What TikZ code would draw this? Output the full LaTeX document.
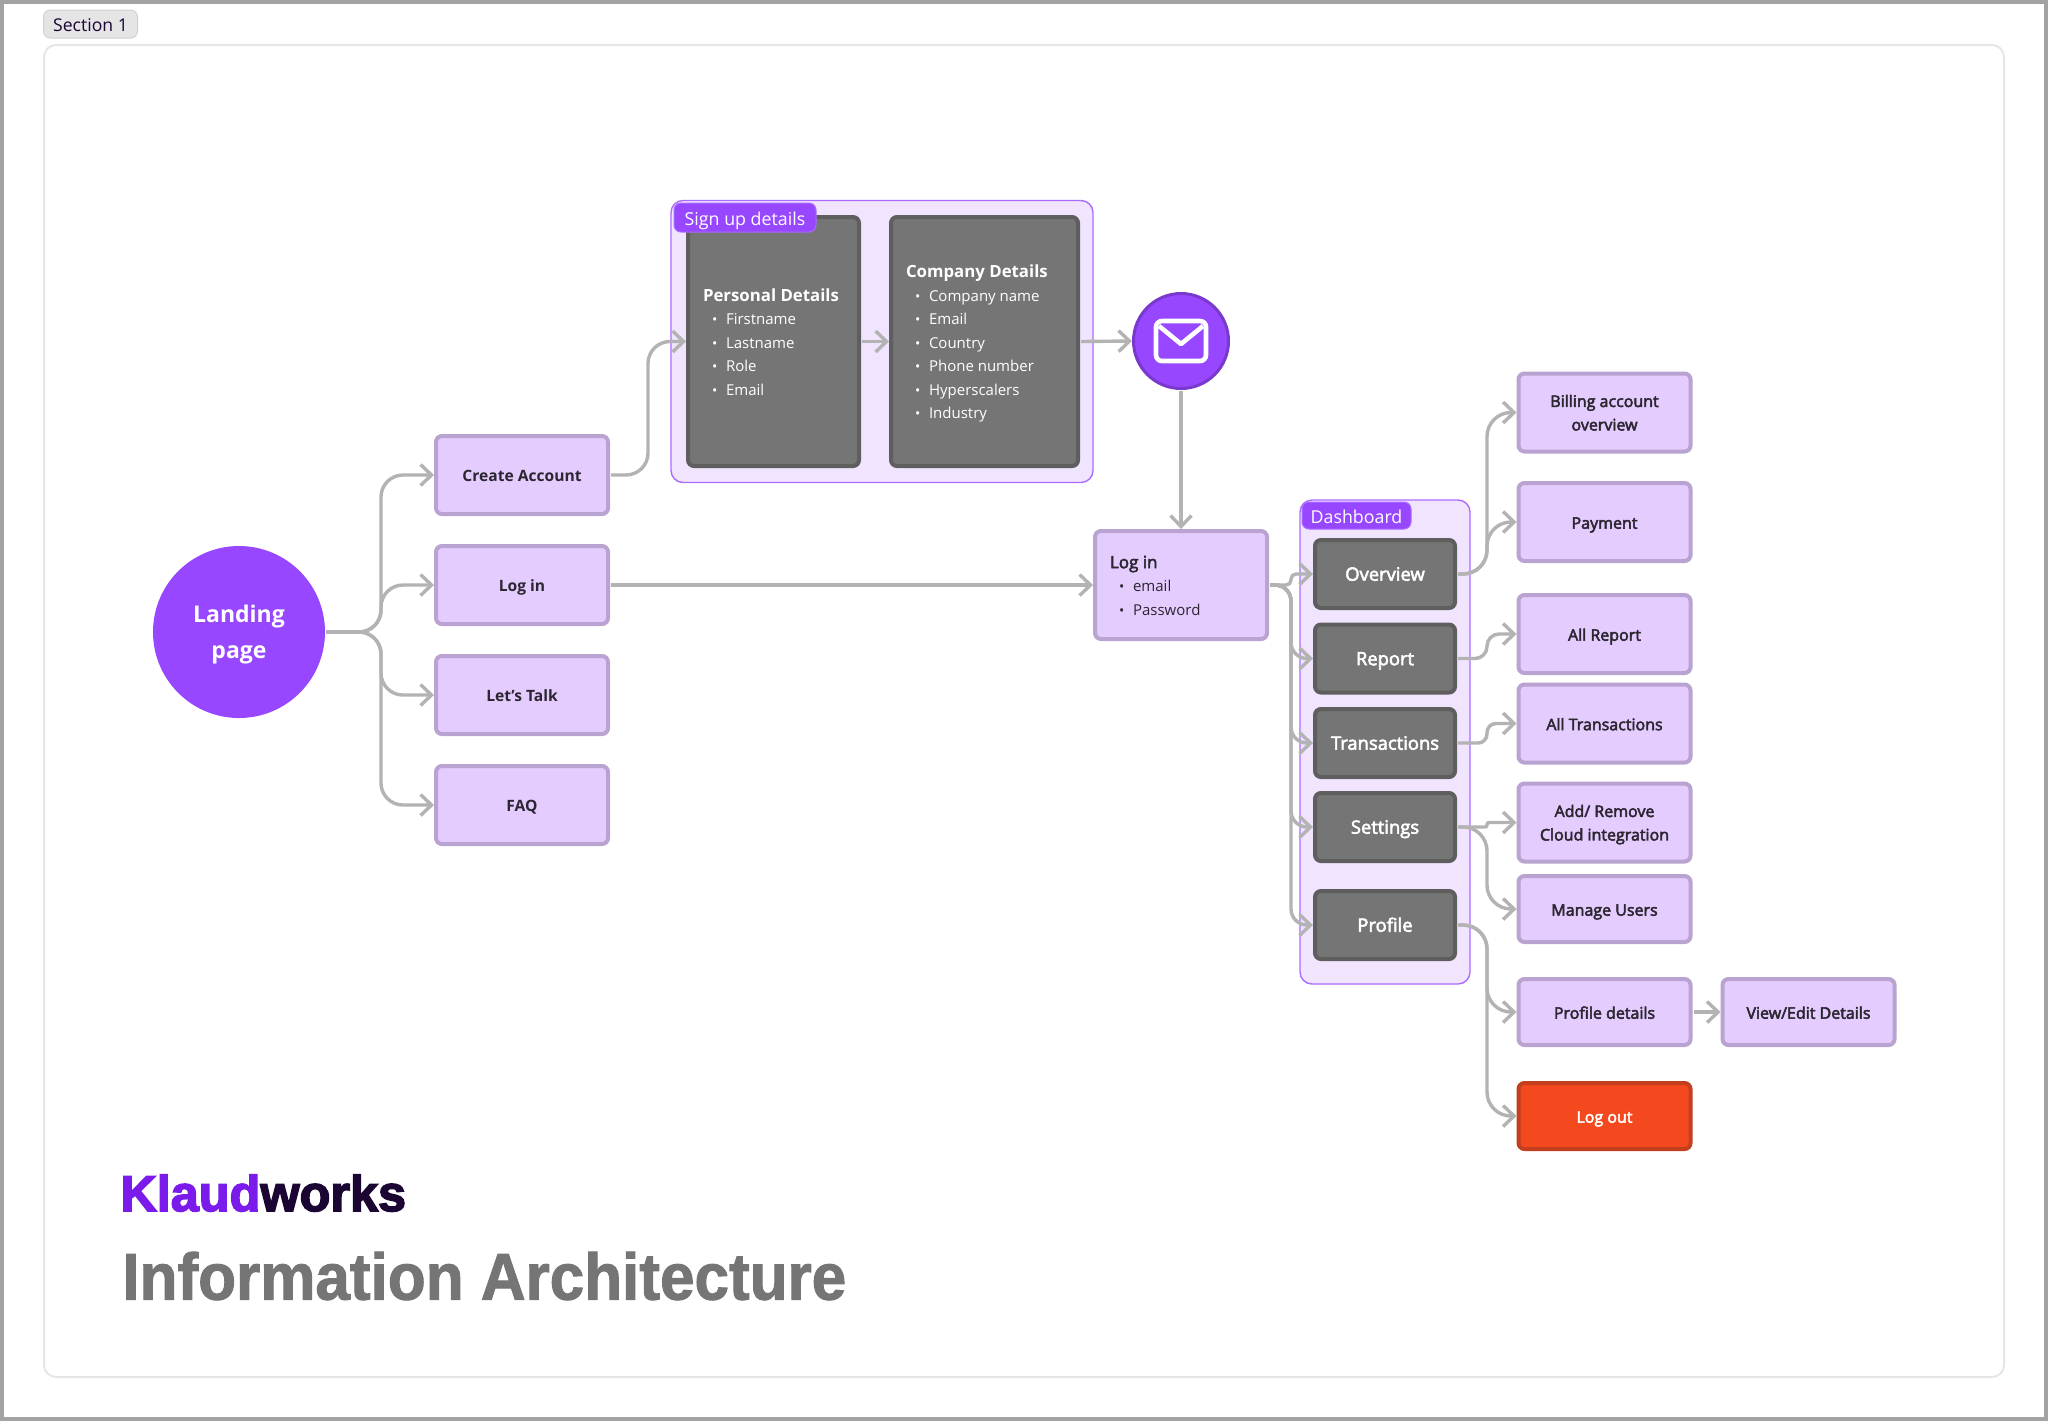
\documentclass[tikz,border=0pt]{standalone}
\usepackage{fontspec}
\setmainfont{Open Sans}
\newfontfamily\midfont[FakeBold=3]{Open Sans}
\newfontfamily\headfont[FakeStretch=0.94,BoldFeatures={FakeBold=1.5}]{Liberation Sans}
\newfontfamily\brandfont[BoldFeatures={FakeBold=3}]{Liberation Sans}
\usepackage{xcolor}
\usetikzlibrary{calc,arrows.meta}

\definecolor{framegray}{HTML}{A3A3A3}
\definecolor{sectionline}{HTML}{E6E6E6}
\definecolor{tagpurple}{HTML}{9747FF}
\definecolor{grouplight}{HTML}{F1E4FF}
\definecolor{groupline}{HTML}{AB6BFF}
\definecolor{boxfill}{HTML}{E5CCFF}
\definecolor{boxline}{HTML}{B9A3D0}
\definecolor{darkfill}{HTML}{757575}
\definecolor{darkline}{HTML}{5E5E5E}
\definecolor{linkgray}{HTML}{B3B3B3}
\definecolor{inkdark}{HTML}{2B2630}
\definecolor{redfill}{HTML}{F4491F}
\definecolor{redline}{HTML}{C43F1E}
\definecolor{klaudpurple}{HTML}{7A1AEB}
\definecolor{worksdark}{HTML}{1A0533}

\newcommand{\rowfont}{\fontsize{7.5}{11.75}\selectfont}
\newcommand{\titlefont}{\fontsize{8.4}{11.75}\selectfont\bfseries}
\newcommand{\listrow}[1]{\hspace*{4.5pt}\makebox[7pt][l]{\scriptsize\textbullet}#1}
\newcommand{\twolines}[2]{\begin{tabular}[b]{@{}c@{}}#1\\#2\end{tabular}}

\tikzset{
	strutted/.style={execute at begin node={\rule{0pt}{\dimexpr3pt+#1\relax}},execute at end node={\rule[-3pt]{0pt}{3pt}}},
	strutted/.default=6.7pt,
	lightbox/.style={draw=boxline,fill=boxfill,line width=2pt,rounded corners=3pt,minimum width=86pt,minimum height=39pt,inner sep=0pt,text=inkdark,align=center,strutted,font=\fontsize{7.8}{11.75}\selectfont\bfseries},
	pagebox/.style={lightbox,font=\midfont\fontsize{8}{11.75}\selectfont},
	darkbox/.style={draw=darkline,fill=darkfill,line width=2pt,rounded corners=3pt,minimum width=70pt,minimum height=34pt,inner sep=0pt,text=white,strutted,font=\midfont\fontsize{9.2}{11.75}\selectfont},
	listbox/.style={text width=#1,align=flush left,font=\rowfont},
	groupbox/.style={draw=groupline,fill=grouplight,line width=.7pt,rounded corners=6pt,inner sep=0pt},
	tagbox/.style={draw=groupline,fill=tagpurple,line width=.5pt,rounded corners=3.5pt,inner sep=0pt,text=white,strutted=7.5pt,font=\fontsize{8.9}{10}\selectfont},
	link/.style={draw=linkgray,line width=1.7pt,->,shorten <=.5pt},
	>={Straight Barb[length=5.5pt,width=10.5pt]}
}

\begin{document}
\begin{tikzpicture}[x=0.5pt,y=-0.5pt]
	\useasboundingbox (0,0) rectangle (2048,1421);
	
	% Page frame
	\fill[framegray] (0,0) rectangle (2048,1421);
	\fill[white] (4,4) rectangle (2044,1417);
	\node[draw=sectionline,line width=1pt,rounded corners=6pt,minimum width=980pt,minimum height=666pt,inner sep=0pt] (sectionframe) at (1024,711) {};
	\node[draw=black!18,fill=black!10,line width=.5pt,rounded corners=3.5pt,minimum width=47pt,minimum height=14pt,inner sep=0pt,text=worksdark,strutted=7.4pt,font=\fontsize{8.8}{10}\selectfont] (sectiontag) at (90.5,24) {Section 1};
	
	% Groups
	\node[groupbox,minimum width=211pt,minimum height=141pt] (signupbox) at (882,341.5) {};
	\node[groupbox,minimum width=85pt,minimum height=242pt] (dashbox) at (1385,742) {};
	
	% Start of the flow
	\node[circle,fill=tagpurple,minimum size=86pt,inner sep=0pt,text=white,strutted=28.6pt,font=\fontsize{11.5}{18}\selectfont\bfseries] (landing) at (239,632) {\twolines{Landing}{page}};
	\node[lightbox] (create) at (522,475) {Create Account};
	\node[lightbox] (login) at (522,585) {Log in};
	\node[lightbox] (talk) at (522,695) {Let's Talk};
	\node[lightbox] (faq) at (522,805) {FAQ};
	
	% Sign up
	\node[darkbox,minimum width=85.5pt,minimum height=124.5pt,listbox=70.5pt] (personal) at (773.5,341.5) {{\titlefont Personal Details}\\\listrow{Firstname}\\\listrow{Lastname}\\\listrow{Role}\\\listrow{Email}};
	\node[darkbox,minimum width=93.5pt,minimum height=124.5pt,listbox=78.5pt] (company) at (984.5,341.5) {{\titlefont Company Details}\\\listrow{Company name}\\\listrow{Email}\\\listrow{Country}\\\listrow{Phone number}\\\listrow{Hyperscalers}\\\listrow{Industry}};
	\node[tagbox,minimum width=71pt,minimum height=14.5pt] (signuptag) at (745,217.5) {Sign up details};
	
	% Mail
	\node[circle,draw=tagpurple!80!black,fill=tagpurple,line width=1.5pt,minimum size=47.5pt,inner sep=0pt] (mail) at (1181,341) {};
	\draw[white,line width=2.3pt,rounded corners=3pt] ($(mail)+(-25,-20)$) rectangle ($(mail)+(25,20)$);
	\draw[white,line width=2.3pt,line join=round] ($(mail)+(-22,-15)$) -- ($(mail)+(0,3)$) -- ($(mail)+(22,-15)$);
	
	% Log in form
	\node[lightbox,minimum width=86pt,minimum height=54pt,listbox=71pt] (signin) at (1181,585) {{\midfont\fontsize{8.5}{11.75}\selectfont Log in}\\\listrow{email}\\\listrow{Password}};
	
	% Dashboard
	\node[darkbox] (overview) at (1385,574) {Overview};
	\node[darkbox] (report) at (1385,658.5) {Report};
	\node[darkbox] (transactions) at (1385,743) {Transactions};
	\node[darkbox] (settings) at (1385,827) {Settings};
	\node[darkbox] (profile) at (1385,925) {Profile};
	\node[tagbox,minimum width=54.5pt,minimum height=13.5pt] (dashtag) at (1356.5,515.5) {Dashboard};
	
	% Pages
	\node[pagebox,strutted=18.5pt] (billing) at (1604.5,412.5) {\twolines{Billing account}{overview}};
	\node[pagebox] (payment) at (1604.5,522) {Payment};
	\node[pagebox] (allreport) at (1604.5,634) {All Report};
	\node[pagebox] (alltrans) at (1604.5,723.5) {All Transactions};
	\node[pagebox,strutted=18.5pt] (addcloud) at (1604.5,822.5) {\twolines{Add/ Remove}{Cloud integration}};
	\node[pagebox,minimum height=33pt] (manage) at (1604.5,909) {Manage Users};
	\node[pagebox,minimum height=33pt] (details) at (1604.5,1012) {Profile details};
	\node[pagebox,minimum height=33pt] (viewedit) at (1808.5,1012) {View/Edit Details};
	\node[pagebox,minimum height=33pt,draw=redline,fill=redfill,text=white] (logout) at (1604.5,1116) {Log out};
	
	% Trunks of the connectors
	\coordinate (trunkA) at (381,0);
	\coordinate (trunkB) at (648,0);
	\coordinate (trunkC) at (1291,0);
	\coordinate (trunkD) at (1487,0);
	
	% Connectors
	\foreach \target in {create,login,talk,faq}
		\draw[link,rounded corners=11pt] (landing.east) -- (landing.east -| trunkA) |- (\target.west);
	\draw[link,rounded corners=11pt] (create.east) -- (create.east -| trunkB) |- (personal.west);
	\draw[link] (login.east) -- (signin.west);
	\draw[link] (personal.east) -- (company.west);
	\draw[link] (company.east) -- (mail.west);
	\draw[link] (mail.south) -- (signin.north);
	\draw[link,rounded corners=2.5pt] (signin.east) -- (signin.east -| trunkC) |- (overview.west);
	\foreach \target in {report,transactions,settings,profile}
		\draw[link,rounded corners=8pt] (signin.east) -- (signin.east -| trunkC) |- (\target.west);
	\foreach \target in {billing,payment}
		\draw[link,rounded corners=12pt] (overview.east) -- (overview.east -| trunkD) |- (\target.west);
	\draw[link,rounded corners=6pt] (report.east) -- (report.east -| trunkD) |- (allreport.west);
	\draw[link,rounded corners=4.5pt] (transactions.east) -- (transactions.east -| trunkD) |- (alltrans.west);
	\draw[link,rounded corners=1pt] (settings.east) -- (settings.east -| trunkD) |- (addcloud.west);
	\draw[link,rounded corners=12pt] (settings.east) -- (settings.east -| trunkD) |- (manage.west);
	\foreach \target in {details,logout}
		\draw[link,rounded corners=12pt] (profile.east) -- (profile.east -| trunkD) |- (\target.west);
	\draw[link] (details.east) -- (viewedit.west);
	
	% Titles
	\node[anchor=west,inner sep=0pt,font=\brandfont\fontsize{25.2}{25}\selectfont\bfseries,text=worksdark] (brand) at (120,1193) {\textcolor{klaudpurple}{Klaud}works};
	\node[anchor=west,inner sep=0pt,font=\headfont\fontsize{33}{33}\selectfont\bfseries,text=darkfill] (heading) at (122,1276) {Information Architecture};
\end{tikzpicture}
\end{document}
